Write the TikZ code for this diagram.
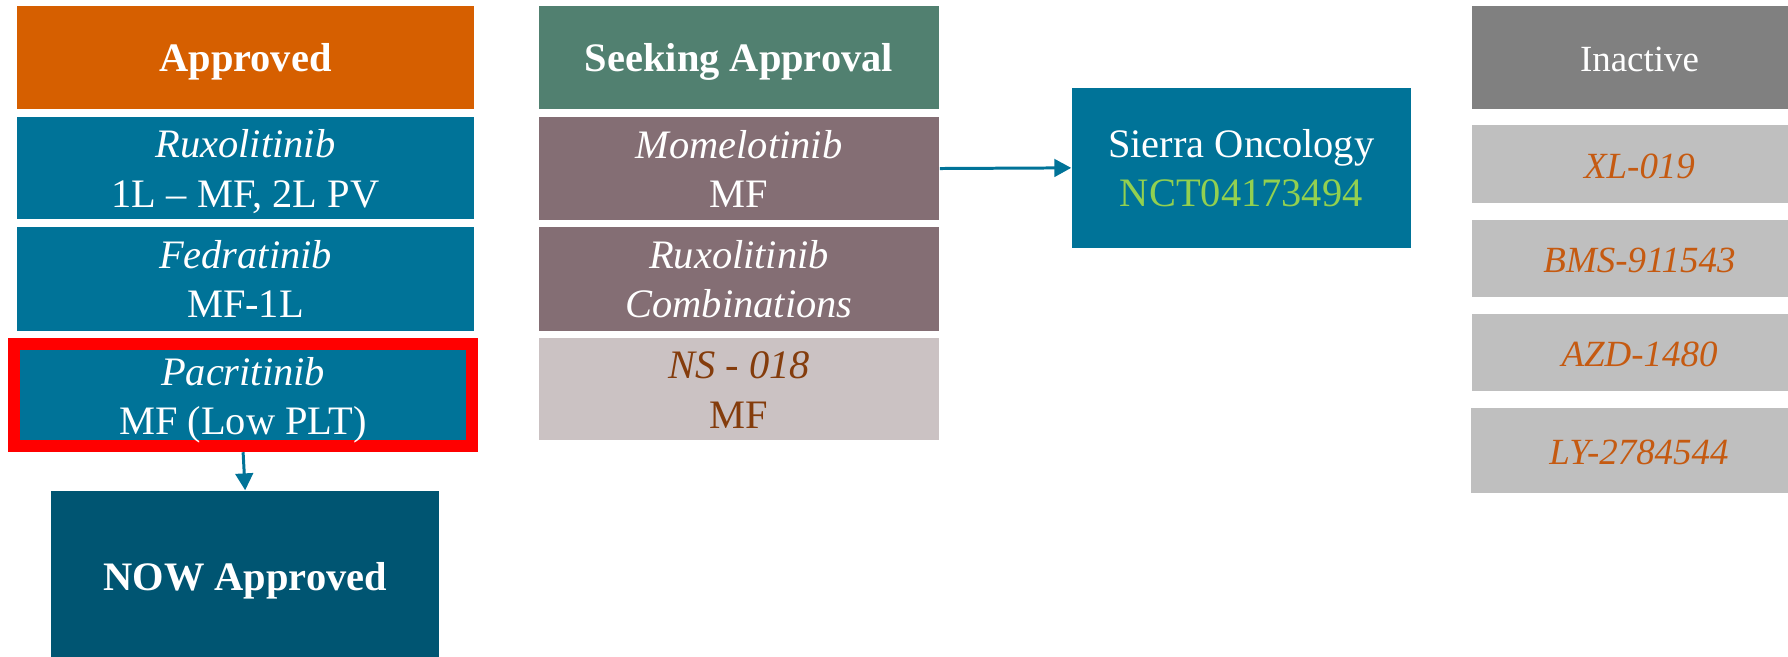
\documentclass[tikz,border=0pt]{standalone}
\usepackage{fontspec}
\setmainfont{Liberation Serif}
\usetikzlibrary{arrows.meta}

\definecolor{apprOrange}{HTML}{D65F00}
\definecolor{tealBlue}{HTML}{007398}
\definecolor{deepBlue}{HTML}{005572}
\definecolor{seekGreen}{HTML}{518070}
\definecolor{mauve}{HTML}{846E74}
\definecolor{paleMauve}{HTML}{CBC2C3}
\definecolor{rust}{HTML}{843C0C}
\definecolor{ncGreen}{HTML}{92D050}
\definecolor{inactGray}{HTML}{808080}
\definecolor{lightGray}{HTML}{BFBFBF}
\definecolor{inactText}{HTML}{C55A11}

% strut that sets the height of the first line of a two-line label
\newcommand{\tallfirst}{\rule{0pt}{11.2pt}}

\begin{document}
\begin{tikzpicture}[
  x=0.01cm, y=-0.01cm,
  % struts fix the first-line height and last-line depth of every label
  box/.style={rectangle, inner sep=0pt, align=center, text=white,
    font=\fontsize{11.5}{14}\selectfont,
    execute at begin node={\rule{0pt}{11.2pt}},
    execute at end node={\rule[-3pt]{0pt}{3pt}}},
  leftcol/.style={box, minimum width=4.57cm},
  midcol/.style={box, minimum width=4.00cm},
  rightcol/.style={box, minimum width=3.35cm},
  item/.style={rightcol, fill=lightGray, text=inactText,
    font=\fontsize{10.5}{12}\selectfont\itshape},
  link/.style={draw=tealBlue, line width=0.85pt,
    -{Triangle[length=4.8pt,width=5pt]}}
]
\useasboundingbox (0,0) rectangle (1788,656);

% Approved column
\node[leftcol, fill=apprOrange, minimum height=1.03cm] (appr) at (245.5,57.2)
  {\bfseries Approved};
\node[leftcol, fill=tealBlue, minimum height=1.023cm] (ruxo) at (245.5,168.15)
  {\tallfirst\itshape Ruxolitinib\\ 1L -- MF, 2L PV};
\node[leftcol, fill=tealBlue, minimum height=1.037cm] (fedr) at (245.5,278.85)
  {\tallfirst\itshape Fedratinib\\ MF-1L};
\node[box, fill=tealBlue, draw=red, line width=3.4pt,
  minimum width=4.572cm, minimum height=1.02cm] (pacr) at (243.1,395.2)
  {\tallfirst\itshape Pacritinib\\ MF (Low PLT)};
\node[box, fill=deepBlue, minimum width=3.883cm, minimum height=1.71cm]
  (now) at (245.15,576.5) {\bfseries NOW Approved};

% Seeking approval column
\node[midcol, fill=seekGreen, minimum height=1.03cm] (seek) at (739,57.2)
  {\bfseries Seeking Approval};
\node[midcol, fill=mauve, minimum height=1.03cm] (mome) at (739,168.5)
  {\tallfirst\itshape Momelotinib\\ MF};
\node[midcol, fill=mauve, minimum height=1.037cm] (rcomb) at (739,278.85)
  {\tallfirst\itshape Ruxolitinib\\ \itshape Combinations};
\node[midcol, fill=paleMauve, text=rust, minimum height=1.017cm] (ns) at (739,389.15)
  {\tallfirst\itshape NS - 018\\ MF};

% Sponsor
\node[box, fill=tealBlue, minimum width=3.385cm, minimum height=1.597cm]
  (sierra) at (1241.25,167.85)
  {\tallfirst Sierra Oncology\\ \textcolor{ncGreen}{NCT04173494}};

% Inactive column
\node[rightcol, fill=inactGray, minimum height=1.03cm,
  font=\fontsize{10.5}{12}\selectfont] (inact) at (1639.5,57.2) {Inactive};
\node[item, minimum height=0.777cm] (xl) at (1639.5,163.85) {XL-019};
\node[item, minimum height=0.767cm] (bms) at (1639.5,258.35) {BMS-911543};
\node[item, minimum height=0.767cm] (azd) at (1639.5,352.35) {AZD-1480};
\node[item, minimum height=0.847cm] (ly) at (1639,450.35) {LY-2784544};

% Connectors
\draw[link] (pacr.south) -- (now.north);
\draw[link] (mome.east) -- (sierra.west);
\end{tikzpicture}
\end{document}
